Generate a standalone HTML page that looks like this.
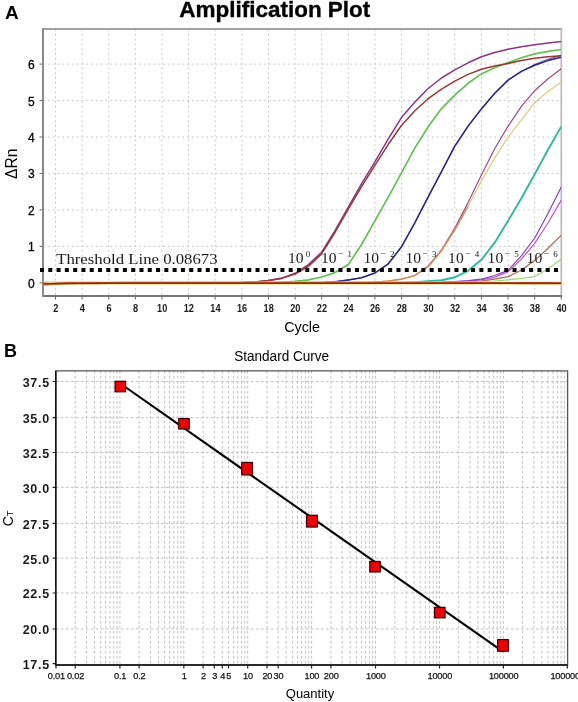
<!DOCTYPE html>
<html><head><meta charset="utf-8"><style>html,body{margin:0;padding:0;background:#fff;width:578px;height:702px;overflow:hidden;position:relative}</style></head>
<body>
<svg width="578" height="702" viewBox="0 0 578 702" style="position:absolute;left:0;top:0;will-change:transform">
<defs><clipPath id="clipA"><rect x="43" y="29" width="518.3" height="267"/></clipPath></defs>
<rect width="578" height="702" fill="#fff"/>
<text x="4.9" y="18.6" font-family="Liberation Sans, sans-serif" font-weight="bold" font-size="19">A</text>
<text x="179.3" y="16.9" font-family="Liberation Sans, sans-serif" font-weight="bold" font-size="22" stroke="#000" stroke-width="0.35" textLength="191" lengthAdjust="spacingAndGlyphs">Amplification Plot</text>
<path d="M55.5 29V296M82.1 29V296M108.8 29V296M135.4 29V296M162.0 29V296M188.6 29V296M215.2 29V296M241.9 29V296M268.5 29V296M295.1 29V296M321.7 29V296M348.3 29V296M374.9 29V296M401.6 29V296M428.2 29V296M454.8 29V296M481.4 29V296M508.1 29V296M534.7 29V296M43 282.8H561.3M43 246.4H561.3M43 209.9H561.3M43 173.4H561.3M43 137.0H561.3M43 100.6H561.3M43 64.1H561.3" stroke="#cbcbcb" stroke-width="1" stroke-dasharray="2 2.8" fill="none"/>
<path d="M55.5 296v3.5M82.1 296v3.5M108.8 296v3.5M135.4 296v3.5M162.0 296v3.5M188.6 296v3.5M215.2 296v3.5M241.9 296v3.5M268.5 296v3.5M295.1 296v3.5M321.7 296v3.5M348.3 296v3.5M374.9 296v3.5M401.6 296v3.5M428.2 296v3.5M454.8 296v3.5M481.4 296v3.5M508.1 296v3.5M534.7 296v3.5M561.3 296v3.5M43 282.8h-3.5M43 246.4h-3.5M43 209.9h-3.5M43 173.4h-3.5M43 137.0h-3.5M43 100.6h-3.5M43 64.1h-3.5" stroke="#666" stroke-width="1" fill="none"/>
<path d="M42 29H562.1999999999999" stroke="#a2a2a2" stroke-width="1.8" fill="none"/>
<path d="M561.3 29V296" stroke="#bcbcbc" stroke-width="1.8" fill="none"/>
<path d="M42 296H562.1999999999999" stroke="#747474" stroke-width="1.8" fill="none"/>
<path d="M43 28.1V296.9" stroke="#8a8a8a" stroke-width="2" fill="none"/>
<text x="34.6" y="287.8" font-family="Liberation Sans, sans-serif" font-size="12" text-anchor="end" fill="#000" stroke="#000" stroke-width="0.3">0</text>
<text x="34.6" y="251.4" font-family="Liberation Sans, sans-serif" font-size="12" text-anchor="end" fill="#000" stroke="#000" stroke-width="0.3">1</text>
<text x="34.6" y="214.9" font-family="Liberation Sans, sans-serif" font-size="12" text-anchor="end" fill="#000" stroke="#000" stroke-width="0.3">2</text>
<text x="34.6" y="178.4" font-family="Liberation Sans, sans-serif" font-size="12" text-anchor="end" fill="#000" stroke="#000" stroke-width="0.3">3</text>
<text x="34.6" y="142.0" font-family="Liberation Sans, sans-serif" font-size="12" text-anchor="end" fill="#000" stroke="#000" stroke-width="0.3">4</text>
<text x="34.6" y="105.6" font-family="Liberation Sans, sans-serif" font-size="12" text-anchor="end" fill="#000" stroke="#000" stroke-width="0.3">5</text>
<text x="34.6" y="69.1" font-family="Liberation Sans, sans-serif" font-size="12" text-anchor="end" fill="#000" stroke="#000" stroke-width="0.3">6</text>
<text x="55.7" y="311.6" font-family="Liberation Sans, sans-serif" font-size="10" font-weight="bold" text-anchor="middle" fill="#1a1a1a" textLength="5.1" lengthAdjust="spacingAndGlyphs">2</text>
<text x="82.3" y="311.6" font-family="Liberation Sans, sans-serif" font-size="10" font-weight="bold" text-anchor="middle" fill="#1a1a1a" textLength="5.1" lengthAdjust="spacingAndGlyphs">4</text>
<text x="109.0" y="311.6" font-family="Liberation Sans, sans-serif" font-size="10" font-weight="bold" text-anchor="middle" fill="#1a1a1a" textLength="5.1" lengthAdjust="spacingAndGlyphs">6</text>
<text x="135.6" y="311.6" font-family="Liberation Sans, sans-serif" font-size="10" font-weight="bold" text-anchor="middle" fill="#1a1a1a" textLength="5.1" lengthAdjust="spacingAndGlyphs">8</text>
<text x="162.2" y="311.6" font-family="Liberation Sans, sans-serif" font-size="10" font-weight="bold" text-anchor="middle" fill="#1a1a1a" textLength="10.2" lengthAdjust="spacingAndGlyphs">10</text>
<text x="188.8" y="311.6" font-family="Liberation Sans, sans-serif" font-size="10" font-weight="bold" text-anchor="middle" fill="#1a1a1a" textLength="10.2" lengthAdjust="spacingAndGlyphs">12</text>
<text x="215.4" y="311.6" font-family="Liberation Sans, sans-serif" font-size="10" font-weight="bold" text-anchor="middle" fill="#1a1a1a" textLength="10.2" lengthAdjust="spacingAndGlyphs">14</text>
<text x="242.1" y="311.6" font-family="Liberation Sans, sans-serif" font-size="10" font-weight="bold" text-anchor="middle" fill="#1a1a1a" textLength="10.2" lengthAdjust="spacingAndGlyphs">16</text>
<text x="268.7" y="311.6" font-family="Liberation Sans, sans-serif" font-size="10" font-weight="bold" text-anchor="middle" fill="#1a1a1a" textLength="10.2" lengthAdjust="spacingAndGlyphs">18</text>
<text x="295.3" y="311.6" font-family="Liberation Sans, sans-serif" font-size="10" font-weight="bold" text-anchor="middle" fill="#1a1a1a" textLength="10.2" lengthAdjust="spacingAndGlyphs">20</text>
<text x="321.9" y="311.6" font-family="Liberation Sans, sans-serif" font-size="10" font-weight="bold" text-anchor="middle" fill="#1a1a1a" textLength="10.2" lengthAdjust="spacingAndGlyphs">22</text>
<text x="348.5" y="311.6" font-family="Liberation Sans, sans-serif" font-size="10" font-weight="bold" text-anchor="middle" fill="#1a1a1a" textLength="10.2" lengthAdjust="spacingAndGlyphs">24</text>
<text x="375.1" y="311.6" font-family="Liberation Sans, sans-serif" font-size="10" font-weight="bold" text-anchor="middle" fill="#1a1a1a" textLength="10.2" lengthAdjust="spacingAndGlyphs">26</text>
<text x="401.8" y="311.6" font-family="Liberation Sans, sans-serif" font-size="10" font-weight="bold" text-anchor="middle" fill="#1a1a1a" textLength="10.2" lengthAdjust="spacingAndGlyphs">28</text>
<text x="428.4" y="311.6" font-family="Liberation Sans, sans-serif" font-size="10" font-weight="bold" text-anchor="middle" fill="#1a1a1a" textLength="10.2" lengthAdjust="spacingAndGlyphs">30</text>
<text x="455.0" y="311.6" font-family="Liberation Sans, sans-serif" font-size="10" font-weight="bold" text-anchor="middle" fill="#1a1a1a" textLength="10.2" lengthAdjust="spacingAndGlyphs">32</text>
<text x="481.6" y="311.6" font-family="Liberation Sans, sans-serif" font-size="10" font-weight="bold" text-anchor="middle" fill="#1a1a1a" textLength="10.2" lengthAdjust="spacingAndGlyphs">34</text>
<text x="508.2" y="311.6" font-family="Liberation Sans, sans-serif" font-size="10" font-weight="bold" text-anchor="middle" fill="#1a1a1a" textLength="10.2" lengthAdjust="spacingAndGlyphs">36</text>
<text x="534.9" y="311.6" font-family="Liberation Sans, sans-serif" font-size="10" font-weight="bold" text-anchor="middle" fill="#1a1a1a" textLength="10.2" lengthAdjust="spacingAndGlyphs">38</text>
<text x="561.5" y="311.6" font-family="Liberation Sans, sans-serif" font-size="10" font-weight="bold" text-anchor="middle" fill="#1a1a1a" textLength="10.2" lengthAdjust="spacingAndGlyphs">40</text>
<text x="302.1" y="332.4" font-family="Liberation Sans, sans-serif" font-size="14.3" text-anchor="middle">Cycle</text>
<text transform="translate(16.9,163.8) rotate(-90)" font-family="Liberation Sans, sans-serif" font-size="15.6" text-anchor="middle">ΔRn</text>
<g clip-path="url(#clipA)">
<path d="M42.2 282.8 L55.5 282.8 L68.8 282.8 L82.1 282.8 L95.4 282.8 L108.8 282.8 L122.1 282.8 L135.4 282.8 L148.7 282.8 L162.0 282.8 L175.3 282.8 L188.6 282.8 L201.9 282.8 L215.2 282.8 L228.5 282.8 L241.9 282.8 L255.2 282.8 L268.5 282.8 L281.8 282.8 L295.1 282.8 L308.4 282.8 L321.7 282.8 L335.0 282.8 L348.3 282.8 L361.6 282.8 L374.9 282.8 L388.3 282.8 L401.6 282.8 L414.9 282.8 L428.2 282.8 L441.5 282.7 L454.8 282.5 L468.1 282.1 L481.4 281.7 L494.7 281.0 L508.1 279.9 L521.4 278.4 L534.7 276.6 L548.0 268.9 L561.3 259.1" stroke="#98d878" stroke-width="1.2" fill="none" stroke-linejoin="round"/>
<path d="M42.2 282.8 L55.5 282.8 L68.8 282.8 L82.1 282.8 L95.4 282.8 L108.8 282.8 L122.1 282.8 L135.4 282.8 L148.7 282.8 L162.0 282.8 L175.3 282.8 L188.6 282.8 L201.9 282.8 L215.2 282.8 L228.5 282.8 L241.9 282.8 L255.2 282.8 L268.5 282.8 L281.8 282.8 L295.1 282.8 L308.4 282.8 L321.7 282.8 L335.0 282.8 L348.3 282.8 L361.6 282.8 L374.9 282.8 L388.3 282.8 L401.6 282.8 L414.9 282.8 L428.2 282.8 L441.5 282.6 L454.8 282.2 L468.1 281.7 L481.4 281.0 L494.7 279.2 L508.1 276.6 L521.4 270.0 L534.7 260.6 L548.0 248.2 L561.3 235.1" stroke="#b06848" stroke-width="1.2" fill="none" stroke-linejoin="round"/>
<path d="M42.2 282.8 L55.5 282.8 L68.8 282.8 L82.1 282.8 L95.4 282.8 L108.8 282.8 L122.1 282.8 L135.4 282.8 L148.7 282.8 L162.0 282.8 L175.3 282.8 L188.6 282.8 L201.9 282.8 L215.2 282.8 L228.5 282.8 L241.9 282.8 L255.2 282.8 L268.5 282.8 L281.8 282.8 L295.1 282.8 L308.4 282.8 L321.7 282.8 L335.0 282.8 L348.3 282.8 L361.6 282.8 L374.9 282.8 L388.3 282.8 L401.6 282.8 L414.9 282.8 L428.2 282.8 L441.5 282.5 L454.8 281.8 L468.1 281.0 L481.4 279.9 L494.7 277.3 L508.1 271.9 L521.4 259.1 L534.7 243.4 L548.0 223.0 L561.3 200.1" stroke="#c050c8" stroke-width="1.2" fill="none" stroke-linejoin="round"/>
<path d="M42.2 282.8 L55.5 282.8 L68.8 282.8 L82.1 282.8 L95.4 282.8 L108.8 282.8 L122.1 282.8 L135.4 282.8 L148.7 282.8 L162.0 282.8 L175.3 282.8 L188.6 282.8 L201.9 282.8 L215.2 282.8 L228.5 282.8 L241.9 282.8 L255.2 282.8 L268.5 282.8 L281.8 282.8 L295.1 282.8 L308.4 282.8 L321.7 282.8 L335.0 282.8 L348.3 282.8 L361.6 282.8 L374.9 282.8 L388.3 282.8 L401.6 282.8 L414.9 282.8 L428.2 282.8 L441.5 282.4 L454.8 281.7 L468.1 280.7 L481.4 279.2 L494.7 275.5 L508.1 270.4 L521.4 255.8 L534.7 238.0 L548.0 213.5 L561.3 186.9" stroke="#8840b8" stroke-width="1.2" fill="none" stroke-linejoin="round"/>
<path d="M42.2 282.8 L55.5 282.8 L68.8 282.8 L82.1 282.8 L95.4 282.8 L108.8 282.8 L122.1 282.8 L135.4 282.8 L148.7 282.8 L162.0 282.8 L175.3 282.8 L188.6 282.8 L201.9 282.8 L215.2 282.8 L228.5 282.8 L241.9 282.8 L255.2 282.8 L268.5 282.8 L281.8 282.8 L295.1 282.8 L308.4 282.8 L321.7 282.8 L335.0 282.8 L348.3 282.8 L361.6 282.8 L374.9 282.8 L388.3 282.8 L401.6 282.8 L414.9 282.3 L428.2 281.3 L441.5 280.2 L454.8 277.3 L468.1 270.8 L481.4 259.8 L494.7 242.7 L508.1 220.8 L521.4 198.2 L534.7 174.2 L548.0 149.8 L561.3 126.4" stroke="#30b8a0" stroke-width="1.9" fill="none" stroke-linejoin="round"/>
<path d="M42.2 282.8 L55.5 282.8 L68.8 282.8 L82.1 282.8 L95.4 282.8 L108.8 282.8 L122.1 282.8 L135.4 282.8 L148.7 282.8 L162.0 282.8 L175.3 282.8 L188.6 282.8 L201.9 282.8 L215.2 282.8 L228.5 282.8 L241.9 282.8 L255.2 282.8 L268.5 282.8 L281.8 282.8 L295.1 282.8 L308.4 282.8 L321.7 282.8 L335.0 282.8 L348.3 282.8 L361.6 282.8 L374.9 282.2 L388.3 281.0 L401.6 279.2 L414.9 275.5 L428.2 266.0 L441.5 250.0 L454.8 228.1 L468.1 202.6 L481.4 174.9 L494.7 148.7 L508.1 126.1 L521.4 106.4 L534.7 90.7 L548.0 78.7 L561.3 68.8" stroke="#a04888" stroke-width="1.2" fill="none" stroke-linejoin="round"/>
<path d="M42.2 282.8 L55.5 282.8 L68.8 282.8 L82.1 282.8 L95.4 282.8 L108.8 282.8 L122.1 282.8 L135.4 282.8 L148.7 282.8 L162.0 282.8 L175.3 282.8 L188.6 282.8 L201.9 282.8 L215.2 282.8 L228.5 282.8 L241.9 282.8 L255.2 282.8 L268.5 282.8 L281.8 282.8 L295.1 282.8 L308.4 282.8 L321.7 282.8 L335.0 282.8 L348.3 282.8 L361.6 282.8 L374.9 282.2 L388.3 281.0 L401.6 279.2 L414.9 275.5 L428.2 266.8 L441.5 250.7 L454.8 229.9 L468.1 206.3 L481.4 180.7 L494.7 158.1 L508.1 137.0 L521.4 119.9 L534.7 102.7 L548.0 91.4 L561.3 82.0" stroke="#e0c878" stroke-width="1.2" fill="none" stroke-linejoin="round"/>
<path d="M374.9 282.2 L388.3 281.0 L401.6 279.2 L414.9 275.5 L428.2 266.8 L441.5 250.7 L454.8 229.9 L468.1 206.3" stroke="#d08850" stroke-width="1.2" fill="none" stroke-linejoin="round"/>
<path d="M42.2 282.8 L55.5 282.8 L68.8 282.8 L82.1 282.8 L95.4 282.8 L108.8 282.8 L122.1 282.8 L135.4 282.8 L148.7 282.8 L162.0 282.8 L175.3 282.8 L188.6 282.8 L201.9 282.8 L215.2 282.8 L228.5 282.8 L241.9 282.8 L255.2 282.8 L268.5 282.8 L281.8 282.8 L295.1 282.8 L308.4 282.8 L321.7 282.8 L335.0 281.8 L348.3 279.9 L361.6 277.7 L374.9 273.0 L388.3 263.8 L401.6 246.7 L414.9 222.7 L428.2 196.8 L441.5 171.6 L454.8 146.1 L468.1 126.1 L481.4 108.9 L494.7 93.3 L508.1 80.1 L521.4 71.4 L534.7 64.5 L548.0 59.2 L561.3 55.4" stroke="#6a50c0" stroke-width="1.1" fill="none" stroke-linejoin="round"/>
<path d="M42.2 282.8 L55.5 282.8 L68.8 282.8 L82.1 282.8 L95.4 282.8 L108.8 282.8 L122.1 282.8 L135.4 282.8 L148.7 282.8 L162.0 282.8 L175.3 282.8 L188.6 282.8 L201.9 282.8 L215.2 282.8 L228.5 282.8 L241.9 282.8 L255.2 282.8 L268.5 282.8 L281.8 282.8 L295.1 282.8 L308.4 282.8 L321.7 282.8 L335.0 281.8 L348.3 279.9 L361.6 277.7 L374.9 273.0 L388.3 263.8 L401.6 246.7 L414.9 222.7 L428.2 196.8 L441.5 171.6 L454.8 146.1 L468.1 126.1 L481.4 108.9 L494.7 93.3 L508.1 80.1 L521.4 71.4 L534.7 65.2 L548.0 60.6 L561.3 57.2" stroke="#28288c" stroke-width="1.5" fill="none" stroke-linejoin="round"/>
<path d="M42.2 282.8 L55.5 282.8 L68.8 282.8 L82.1 282.8 L95.4 282.8 L108.8 282.8 L122.1 282.8 L135.4 282.8 L148.7 282.8 L162.0 282.8 L175.3 282.8 L188.6 282.8 L201.9 282.8 L215.2 282.8 L228.5 282.8 L241.9 282.8 L255.2 282.8 L268.5 282.8 L281.8 282.3 L295.1 281.3 L308.4 279.9 L321.7 277.0 L335.0 272.6 L348.3 264.6 L361.6 244.5 L374.9 220.8 L388.3 197.1 L401.6 172.7 L414.9 147.9 L428.2 126.8 L441.5 108.6 L454.8 95.1 L468.1 83.3 L481.4 73.9 L494.7 67.7 L508.1 62.6 L521.4 57.8 L534.7 53.9 L548.0 51.3 L561.3 49.5" stroke="#62c052" stroke-width="1.7" fill="none" stroke-linejoin="round"/>
<path d="M42.2 282.8 L55.5 282.8 L68.8 282.8 L82.1 282.8 L95.4 282.8 L108.8 282.8 L122.1 282.8 L135.4 282.8 L148.7 282.8 L162.0 282.8 L175.3 282.8 L188.6 282.8 L201.9 282.8 L215.2 282.8 L228.5 282.8 L241.9 282.6 L255.2 282.1 L268.5 280.6 L281.8 278.1 L295.1 273.3 L308.4 264.6 L321.7 252.2 L335.0 230.7 L348.3 207.0 L361.6 183.7 L374.9 161.8 L388.3 138.8 L401.6 117.3 L414.9 102.0 L428.2 88.5 L441.5 78.0 L454.8 69.9 L468.1 62.8 L481.4 56.8 L494.7 52.5 L508.1 49.2 L521.4 46.7 L534.7 44.8 L548.0 43.0 L561.3 41.5" stroke="#8c3484" stroke-width="1.5" fill="none" stroke-linejoin="round"/>
<path d="M42.2 282.8 L55.5 282.8 L68.8 282.8 L82.1 282.8 L95.4 282.8 L108.8 282.8 L122.1 282.8 L135.4 282.8 L148.7 282.8 L162.0 282.8 L175.3 282.8 L188.6 282.8 L201.9 282.8 L215.2 282.8 L228.5 282.8 L241.9 282.6 L255.2 282.1 L268.5 280.6 L281.8 278.4 L295.1 274.1 L308.4 266.4 L321.7 253.6 L335.0 232.5 L348.3 209.2 L361.6 186.6 L374.9 165.4 L388.3 144.3 L401.6 125.3 L414.9 110.8 L428.2 98.7 L441.5 89.2 L454.8 81.2 L468.1 74.4 L481.4 69.2 L494.7 66.0 L508.1 63.4 L521.4 60.6 L534.7 58.3 L548.0 56.7 L561.3 55.7" stroke="#963838" stroke-width="1.5" fill="none" stroke-linejoin="round"/>
<path d="M42.2 284.3 L55.5 283.5 L68.8 283.2 L82.1 283.2 L95.4 283.2 L108.8 283.2 L122.1 283.2 L135.4 283.2 L148.7 283.2 L162.0 283.2 L175.3 283.2 L188.6 283.2 L201.9 283.2 L215.2 283.2 L228.5 283.2 L241.9 283.2 L255.2 283.2 L268.5 283.2 L281.8 283.2 L295.1 283.2 L308.4 283.2 L321.7 283.2 L335.0 283.2 L348.3 283.2 L361.6 283.2 L374.9 283.2 L388.3 283.2 L401.6 283.2 L414.9 283.2 L428.2 283.2 L441.5 283.2 L454.8 283.2 L468.1 283.2 L481.4 283.2 L494.7 283.2 L508.1 283.2 L521.4 283.2 L534.7 283.2 L548.0 283.2 L561.3 283.2" stroke="#f6e4b0" stroke-width="3.4" fill="none" stroke-linejoin="round"/>
<path d="M42.2 284.6 L55.5 283.9 L68.8 283.4 L82.1 283.2 L95.4 283.1 L108.8 283.0 L122.1 282.9 L135.4 282.8 L148.7 282.8 L162.0 282.8 L175.3 282.8 L188.6 282.8 L201.9 282.8 L215.2 282.8 L228.5 282.8 L241.9 282.8 L255.2 282.8 L268.5 282.8 L281.8 282.8 L295.1 282.8 L308.4 282.8 L321.7 282.8 L335.0 282.8 L348.3 282.8 L361.6 282.8 L374.9 282.9 L388.3 282.9 L401.6 282.9 L414.9 282.9 L428.2 282.9 L441.5 282.9 L454.8 282.9 L468.1 283.0 L481.4 283.0 L494.7 283.0 L508.1 283.0 L521.4 283.1 L534.7 283.1 L548.0 283.1 L561.3 283.2" stroke="#c06a28" stroke-width="2.1" fill="none" stroke-linejoin="round"/>
<path d="M42.2 283.9 L55.5 283.4 L68.8 283.2 L82.1 283.2 L95.4 283.2 L108.8 283.2 L122.1 283.2 L135.4 283.2 L148.7 283.2 L162.0 283.2 L175.3 283.2 L188.6 283.2 L201.9 283.2 L215.2 283.2 L228.5 283.2 L241.9 283.2 L255.2 283.2 L268.5 283.2 L281.8 283.2 L295.1 283.2 L308.4 283.2 L321.7 283.2 L335.0 283.2 L348.3 283.2 L361.6 283.2 L374.9 283.2 L388.3 283.2 L401.6 283.2 L414.9 283.2 L428.2 283.2 L441.5 283.2 L454.8 283.2 L468.1 283.2 L481.4 283.2 L494.7 283.2 L508.1 283.2 L521.4 283.2 L534.7 283.2 L548.0 283.2 L561.3 283.2" stroke="#902810" stroke-width="1.4" fill="none" stroke-linejoin="round"/>
</g>
<path d="M40 270H559" stroke="#000" stroke-width="3.8" stroke-dasharray="4 4.29" fill="none"/>
<text x="56.2" y="263.6" font-family="Liberation Serif, serif" font-size="14" fill="#1a1a1a" textLength="161.4" lengthAdjust="spacingAndGlyphs">Threshold Line 0.08673</text>
<text x="288.0" y="263.2" font-family="Liberation Serif, serif" font-size="14.5" fill="#222" textLength="15.6" lengthAdjust="spacingAndGlyphs">10</text>
<text x="305.8" y="257.0" font-family="Liberation Serif, serif" font-size="9" fill="#222">0</text>
<text x="320.9" y="263.2" font-family="Liberation Serif, serif" font-size="14.5" fill="#222" textLength="15.6" lengthAdjust="spacingAndGlyphs">10</text>
<text x="338.0" y="256.8" font-family="Liberation Serif, serif" font-size="9.5" fill="#222">&#8722;</text>
<text x="347.5" y="257.0" font-family="Liberation Serif, serif" font-size="9" fill="#222">1</text>
<text x="363.4" y="263.2" font-family="Liberation Serif, serif" font-size="14.5" fill="#222" textLength="15.6" lengthAdjust="spacingAndGlyphs">10</text>
<text x="380.5" y="256.8" font-family="Liberation Serif, serif" font-size="9.5" fill="#222">&#8722;</text>
<text x="390" y="257.0" font-family="Liberation Serif, serif" font-size="9" fill="#222">2</text>
<text x="405.4" y="263.2" font-family="Liberation Serif, serif" font-size="14.5" fill="#222" textLength="15.6" lengthAdjust="spacingAndGlyphs">10</text>
<text x="422.5" y="256.8" font-family="Liberation Serif, serif" font-size="9.5" fill="#222">&#8722;</text>
<text x="432" y="257.0" font-family="Liberation Serif, serif" font-size="9" fill="#222">3</text>
<text x="448.09999999999997" y="263.2" font-family="Liberation Serif, serif" font-size="14.5" fill="#222" textLength="15.6" lengthAdjust="spacingAndGlyphs">10</text>
<text x="465.2" y="256.8" font-family="Liberation Serif, serif" font-size="9.5" fill="#222">&#8722;</text>
<text x="474.7" y="257.0" font-family="Liberation Serif, serif" font-size="9" fill="#222">4</text>
<text x="487.59999999999997" y="263.2" font-family="Liberation Serif, serif" font-size="14.5" fill="#222" textLength="15.6" lengthAdjust="spacingAndGlyphs">10</text>
<text x="504.7" y="256.8" font-family="Liberation Serif, serif" font-size="9.5" fill="#222">&#8722;</text>
<text x="514.2" y="257.0" font-family="Liberation Serif, serif" font-size="9" fill="#222">5</text>
<text x="526.6" y="263.2" font-family="Liberation Serif, serif" font-size="14.5" fill="#222" textLength="15.6" lengthAdjust="spacingAndGlyphs">10</text>
<text x="543.7" y="256.8" font-family="Liberation Serif, serif" font-size="9.5" fill="#222">&#8722;</text>
<text x="553.2" y="257.0" font-family="Liberation Serif, serif" font-size="9" fill="#222">6</text>
<text x="4.0" y="356.6" font-family="Liberation Sans, sans-serif" font-weight="bold" font-size="18">B</text>
<text x="281.65" y="361.4" font-family="Liberation Sans, sans-serif" font-size="13.8" text-anchor="middle" textLength="95" lengthAdjust="spacingAndGlyphs">Standard Curve</text>
<path d="M75.2 370.8V665.0M86.5 370.8V665.0M94.5 370.8V665.0M100.7 370.8V665.0M105.7 370.8V665.0M110.0 370.8V665.0M113.7 370.8V665.0M117.0 370.8V665.0M119.9 370.8V665.0M139.1 370.8V665.0M150.4 370.8V665.0M158.4 370.8V665.0M164.6 370.8V665.0M169.6 370.8V665.0M173.9 370.8V665.0M177.6 370.8V665.0M180.9 370.8V665.0M183.8 370.8V665.0M203.1 370.8V665.0M214.3 370.8V665.0M222.3 370.8V665.0M228.5 370.8V665.0M233.6 370.8V665.0M237.8 370.8V665.0M241.5 370.8V665.0M244.8 370.8V665.0M247.7 370.8V665.0M267.0 370.8V665.0M278.2 370.8V665.0M286.2 370.8V665.0M292.4 370.8V665.0M297.5 370.8V665.0M301.7 370.8V665.0M305.4 370.8V665.0M308.7 370.8V665.0M311.6 370.8V665.0M330.9 370.8V665.0M342.1 370.8V665.0M350.1 370.8V665.0M356.3 370.8V665.0M361.4 370.8V665.0M365.7 370.8V665.0M369.4 370.8V665.0M372.6 370.8V665.0M375.5 370.8V665.0M394.8 370.8V665.0M406.0 370.8V665.0M414.0 370.8V665.0M420.2 370.8V665.0M425.3 370.8V665.0M429.6 370.8V665.0M433.3 370.8V665.0M436.5 370.8V665.0M439.5 370.8V665.0M458.7 370.8V665.0M470.0 370.8V665.0M477.9 370.8V665.0M484.1 370.8V665.0M489.2 370.8V665.0M493.5 370.8V665.0M497.2 370.8V665.0M500.4 370.8V665.0M503.4 370.8V665.0M522.6 370.8V665.0M533.9 370.8V665.0M541.8 370.8V665.0M548.0 370.8V665.0M553.1 370.8V665.0M557.4 370.8V665.0M561.1 370.8V665.0M564.4 370.8V665.0M55.8 629.0H567.6M55.8 593.0H567.6M55.8 558.2H567.6M55.8 523.4H567.6M55.8 487.4H567.6M55.8 452.5H567.6M55.8 417.7H567.6M55.8 381.5H567.6" stroke="#c2c2c2" stroke-width="1" stroke-dasharray="2.8 2.2" fill="none"/>
<path d="M56.0 665.0v3.5M75.2 665.0v3.5M119.9 665.0v3.5M139.1 665.0v3.5M183.8 665.0v3.5M203.1 665.0v3.5M214.3 665.0v3.5M222.3 665.0v3.5M228.5 665.0v3.5M247.7 665.0v3.5M267.0 665.0v3.5M278.2 665.0v3.5M311.6 665.0v3.5M330.9 665.0v3.5M375.5 665.0v3.5M439.5 665.0v3.5M503.4 665.0v3.5M567.3 665.0v3.5M55.8 663.7h-3.2M55.8 629.0h-3.2M55.8 593.0h-3.2M55.8 558.2h-3.2M55.8 523.4h-3.2M55.8 487.4h-3.2M55.8 452.5h-3.2M55.8 417.7h-3.2M55.8 381.5h-3.2" stroke="#222" stroke-width="1.2" fill="none"/>
<path d="M55.8 370.8H567.6V665.0H55.8Z" fill="none" stroke="#555" stroke-width="1.3"/>
<path d="M55.8 370.8V665.0H567.6" fill="none" stroke="#111" stroke-width="1.5"/>
<text x="56.3" y="679.2" font-family="Liberation Sans, sans-serif" font-size="9.2" text-anchor="middle" fill="#111" stroke="#111" stroke-width="0.25" letter-spacing="-0.2">0.01</text>
<text x="75.5" y="679.2" font-family="Liberation Sans, sans-serif" font-size="9.2" text-anchor="middle" fill="#111" stroke="#111" stroke-width="0.25" letter-spacing="-0.2">0.02</text>
<text x="120.2" y="679.2" font-family="Liberation Sans, sans-serif" font-size="9.2" text-anchor="middle" fill="#111" stroke="#111" stroke-width="0.25" letter-spacing="-0.2">0.1</text>
<text x="139.4" y="679.2" font-family="Liberation Sans, sans-serif" font-size="9.2" text-anchor="middle" fill="#111" stroke="#111" stroke-width="0.25" letter-spacing="-0.2">0.2</text>
<text x="184.1" y="679.2" font-family="Liberation Sans, sans-serif" font-size="9.2" text-anchor="middle" fill="#111" stroke="#111" stroke-width="0.25" letter-spacing="-0.2">1</text>
<text x="203.4" y="679.2" font-family="Liberation Sans, sans-serif" font-size="9.2" text-anchor="middle" fill="#111" stroke="#111" stroke-width="0.25" letter-spacing="-0.2">2</text>
<text x="214.6" y="679.2" font-family="Liberation Sans, sans-serif" font-size="9.2" text-anchor="middle" fill="#111" stroke="#111" stroke-width="0.25" letter-spacing="-0.2">3</text>
<text x="222.6" y="679.2" font-family="Liberation Sans, sans-serif" font-size="9.2" text-anchor="middle" fill="#111" stroke="#111" stroke-width="0.25" letter-spacing="-0.2">4</text>
<text x="228.8" y="679.2" font-family="Liberation Sans, sans-serif" font-size="9.2" text-anchor="middle" fill="#111" stroke="#111" stroke-width="0.25" letter-spacing="-0.2">5</text>
<text x="248.0" y="679.2" font-family="Liberation Sans, sans-serif" font-size="9.2" text-anchor="middle" fill="#111" stroke="#111" stroke-width="0.25" letter-spacing="-0.2">10</text>
<text x="267.3" y="679.2" font-family="Liberation Sans, sans-serif" font-size="9.2" text-anchor="middle" fill="#111" stroke="#111" stroke-width="0.25" letter-spacing="-0.2">20</text>
<text x="278.5" y="679.2" font-family="Liberation Sans, sans-serif" font-size="9.2" text-anchor="middle" fill="#111" stroke="#111" stroke-width="0.25" letter-spacing="-0.2">30</text>
<text x="311.9" y="679.2" font-family="Liberation Sans, sans-serif" font-size="9.2" text-anchor="middle" fill="#111" stroke="#111" stroke-width="0.25" letter-spacing="-0.2">100</text>
<text x="331.2" y="679.2" font-family="Liberation Sans, sans-serif" font-size="9.2" text-anchor="middle" fill="#111" stroke="#111" stroke-width="0.25" letter-spacing="-0.2">200</text>
<text x="375.8" y="679.2" font-family="Liberation Sans, sans-serif" font-size="9.2" text-anchor="middle" fill="#111" stroke="#111" stroke-width="0.25" letter-spacing="-0.2">1000</text>
<text x="439.8" y="679.2" font-family="Liberation Sans, sans-serif" font-size="9.2" text-anchor="middle" fill="#111" stroke="#111" stroke-width="0.25" letter-spacing="-0.2">10000</text>
<text x="503.7" y="679.2" font-family="Liberation Sans, sans-serif" font-size="9.2" text-anchor="middle" fill="#111" stroke="#111" stroke-width="0.25" letter-spacing="-0.2">100000</text>
<text x="567.6" y="679.2" font-family="Liberation Sans, sans-serif" font-size="9.2" text-anchor="middle" fill="#111" stroke="#111" stroke-width="0.25" letter-spacing="-0.2">1000000</text>
<text x="49.8" y="669.1" font-family="Liberation Sans, sans-serif" font-size="12.5" font-weight="bold" text-anchor="end" fill="#1a1a1a" letter-spacing="0.7">17.5</text>
<text x="49.8" y="634.4" font-family="Liberation Sans, sans-serif" font-size="12.5" font-weight="bold" text-anchor="end" fill="#1a1a1a" letter-spacing="0.7">20.0</text>
<text x="49.8" y="598.4" font-family="Liberation Sans, sans-serif" font-size="12.5" font-weight="bold" text-anchor="end" fill="#1a1a1a" letter-spacing="0.7">22.5</text>
<text x="49.8" y="563.6" font-family="Liberation Sans, sans-serif" font-size="12.5" font-weight="bold" text-anchor="end" fill="#1a1a1a" letter-spacing="0.7">25.0</text>
<text x="49.8" y="528.8" font-family="Liberation Sans, sans-serif" font-size="12.5" font-weight="bold" text-anchor="end" fill="#1a1a1a" letter-spacing="0.7">27.5</text>
<text x="49.8" y="492.8" font-family="Liberation Sans, sans-serif" font-size="12.5" font-weight="bold" text-anchor="end" fill="#1a1a1a" letter-spacing="0.7">30.0</text>
<text x="49.8" y="457.9" font-family="Liberation Sans, sans-serif" font-size="12.5" font-weight="bold" text-anchor="end" fill="#1a1a1a" letter-spacing="0.7">32.5</text>
<text x="49.8" y="423.1" font-family="Liberation Sans, sans-serif" font-size="12.5" font-weight="bold" text-anchor="end" fill="#1a1a1a" letter-spacing="0.7">35.0</text>
<text x="49.8" y="386.9" font-family="Liberation Sans, sans-serif" font-size="12.5" font-weight="bold" text-anchor="end" fill="#1a1a1a" letter-spacing="0.7">37.5</text>
<text x="310" y="697.6" font-family="Liberation Sans, sans-serif" font-size="13" text-anchor="middle">Quantity</text>
<text transform="translate(13.1,526.3) rotate(-90)" font-family="Liberation Sans, sans-serif" font-size="14">C<tspan font-size="9.5">T</tspan></text>
<path d="M120.3 383.5L503 651.7" stroke="#000" stroke-width="2.1" fill="none"/>
<rect x="114.45" y="380.65" width="11.7" height="11.7" fill="#3a0000"/>
<rect x="178.15" y="417.95" width="11.7" height="11.7" fill="#3a0000"/>
<rect x="241.25" y="461.85" width="11.7" height="11.7" fill="#3a0000"/>
<rect x="241.25" y="463.85" width="11.7" height="11.7" fill="#3a0000"/>
<rect x="306.15" y="514.65" width="11.7" height="11.7" fill="#3a0000"/>
<rect x="306.15" y="515.95" width="11.7" height="11.7" fill="#3a0000"/>
<rect x="369.15" y="560.85" width="11.7" height="11.7" fill="#3a0000"/>
<rect x="433.95" y="606.75" width="11.7" height="11.7" fill="#3a0000"/>
<rect x="497.15" y="638.95" width="11.7" height="11.7" fill="#3a0000"/>
<rect x="497.15" y="640.15" width="11.7" height="11.7" fill="#3a0000"/>
<rect x="115.65" y="381.85" width="9.3" height="9.3" fill="#f00000"/>
<rect x="179.35" y="419.15" width="9.3" height="9.3" fill="#f00000"/>
<rect x="242.45" y="463.05" width="9.3" height="9.3" fill="#f00000"/>
<rect x="242.45" y="465.05" width="9.3" height="9.3" fill="#f00000"/>
<rect x="307.35" y="515.85" width="9.3" height="9.3" fill="#f00000"/>
<rect x="307.35" y="517.15" width="9.3" height="9.3" fill="#f00000"/>
<rect x="370.35" y="562.05" width="9.3" height="9.3" fill="#f00000"/>
<rect x="435.15" y="607.95" width="9.3" height="9.3" fill="#f00000"/>
<rect x="498.35" y="640.15" width="9.3" height="9.3" fill="#f00000"/>
<rect x="498.35" y="641.35" width="9.3" height="9.3" fill="#f00000"/>
</svg>
</body></html>
